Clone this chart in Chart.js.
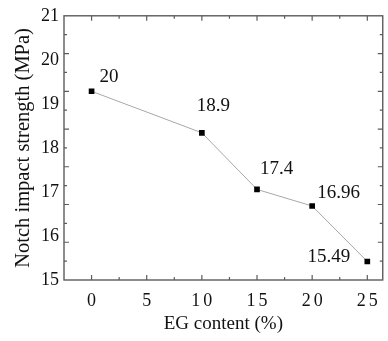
<!DOCTYPE html>
<html>
<head>
<meta charset="utf-8">
<script src="https://cdn.jsdelivr.net/npm/chart.js@4/dist/chart.umd.min.js"></script>
<style>
  html, body { margin: 0; padding: 0; background: #fff; }
  #wrap { width: 388px; height: 341px; }
</style>
</head>
<body>
<div id="wrap"><canvas id="c" width="388" height="341"></canvas></div>
<script>
// EG content (%) and notch impact strength (MPa)
const egContent = [0, 10, 15, 20, 25];
const impactStrength = [20, 18.9, 17.4, 16.96, 15.49];

// axis tick labels
const xTickLabels = ['0', '5', '10', '15', '20', '25'];
const yTickLabels = ['15', '16', '17', '18', '19', '20', '21'];

const SERIF = '"Liberation Serif", "Times New Roman", serif';
const INK = '#111';
const AXIS = '#5c5c5c';

// value label placement relative to each point (px) and alignment
const labelOffsets = [[8, -14], [-5, -27], [3, -20], [5, -13], [-17, -4]];
const labelAlign = ['left', 'left', 'left', 'left', 'right'];

// boxed frame with inward major/minor ticks on all four sides
const frameTicks = {
  id: 'frameTicks',
  beforeDatasetsDraw(chart) {
    const { ctx, chartArea: a, scales } = chart;
    const x = scales.x, y = scales.y;
    ctx.save();
    ctx.strokeStyle = AXIS;
    ctx.lineWidth = 1.4;
    ctx.strokeRect(a.left, a.top, a.right - a.left, a.bottom - a.top);
    ctx.lineWidth = 1.2;
    ctx.beginPath();
    const tickX = (v, len) => {
      const px = x.getPixelForValue(v);
      ctx.moveTo(px, a.bottom); ctx.lineTo(px, a.bottom - len);
      ctx.moveTo(px, a.top); ctx.lineTo(px, a.top + len);
    };
    const tickY = (v, len) => {
      const py = y.getPixelForValue(v);
      ctx.moveTo(a.left, py); ctx.lineTo(a.left + len, py);
      ctx.moveTo(a.right, py); ctx.lineTo(a.right - len, py);
    };
    for (let v = 0; v <= x.max; v += 5) tickX(v, 5);
    for (let v = 2.5; v < x.max; v += 5) tickX(v, 3);
    for (let v = y.min + 1; v < y.max; v += 1) tickY(v, 5);
    for (let v = y.min + 0.5; v < y.max; v += 1) tickY(v, 3);
    ctx.stroke();
    ctx.restore();
  }
};

// numeric value written next to each point
const valueLabels = {
  id: 'valueLabels',
  afterDatasetsDraw(chart) {
    const { ctx } = chart;
    const meta = chart.getDatasetMeta(0);
    ctx.save();
    ctx.font = '19px ' + SERIF;
    ctx.fillStyle = INK;
    ctx.textBaseline = 'middle';
    meta.data.forEach((pt, i) => {
      const [dx, dy] = labelOffsets[i];
      ctx.textAlign = labelAlign[i];
      ctx.fillText(String(impactStrength[i]), pt.x + dx, pt.y + dy);
    });
    ctx.restore();
  }
};

new Chart(document.getElementById('c'), {
  type: 'line',
  data: {
    datasets: [{
      data: egContent.map((v, i) => ({ x: v, y: impactStrength[i] })),
      xAxisID: 'x',
      yAxisID: 'y',
      borderColor: '#a8a8a8',
      borderWidth: 1,
      tension: 0,
      fill: false,
      pointStyle: 'rect',
      pointRadius: 4,
      pointBackgroundColor: '#000',
      pointBorderColor: '#000',
      pointBorderWidth: 0
    }]
  },
  options: {
    responsive: false,
    animation: false,
    devicePixelRatio: 1,
    layout: { padding: { top: 9, right: 2, bottom: 0, left: 0 } },
    plugins: { legend: { display: false }, tooltip: { enabled: false } },
    scales: {
      x: {
        type: 'linear',
        position: 'bottom',
        min: -2.5,
        max: 26.4,
        grid: { display: false, drawTicks: false },
        border: { display: false },
        afterBuildTicks: s => { s.ticks = xTickLabels.map(t => ({ value: Number(t) })); },
        afterFit: s => { s.height = 61; },
        ticks: {
          padding: 10,
          color: INK,
          autoSkip: false,
          maxRotation: 0,
          font: { family: SERIF, size: 18 },
          callback: (v, i) => xTickLabels[i].split('').join('\u2006')
        },
        title: {
          display: true,
          text: 'EG content (%)',
          color: INK,
          font: { family: SERIF, size: 19 },
          padding: { top: 0, bottom: 6 }
        }
      },
      y: {
        type: 'linear',
        display: false,
        min: 15,
        max: 22
      },
      yl: {
        type: 'linear',
        position: 'left',
        min: 15,
        max: 21,
        grid: { display: false, drawTicks: false },
        border: { display: false },
        afterBuildTicks: s => { s.ticks = yTickLabels.map(t => ({ value: Number(t) })); },
        afterFit: s => { s.width = 64; },
        ticks: {
          padding: 5,
          color: INK,
          autoSkip: false,
          font: { family: SERIF, size: 18 },
          callback: (v, i) => yTickLabels[i]
        },
        title: {
          display: true,
          text: 'Notch impact strength (MPa)',
          color: INK,
          font: { family: SERIF, size: 20.5 },
          padding: { top: 11, bottom: 0 }
        }
      }
    }
  },
  plugins: [frameTicks, valueLabels]
});
</script>
</body>
</html>
